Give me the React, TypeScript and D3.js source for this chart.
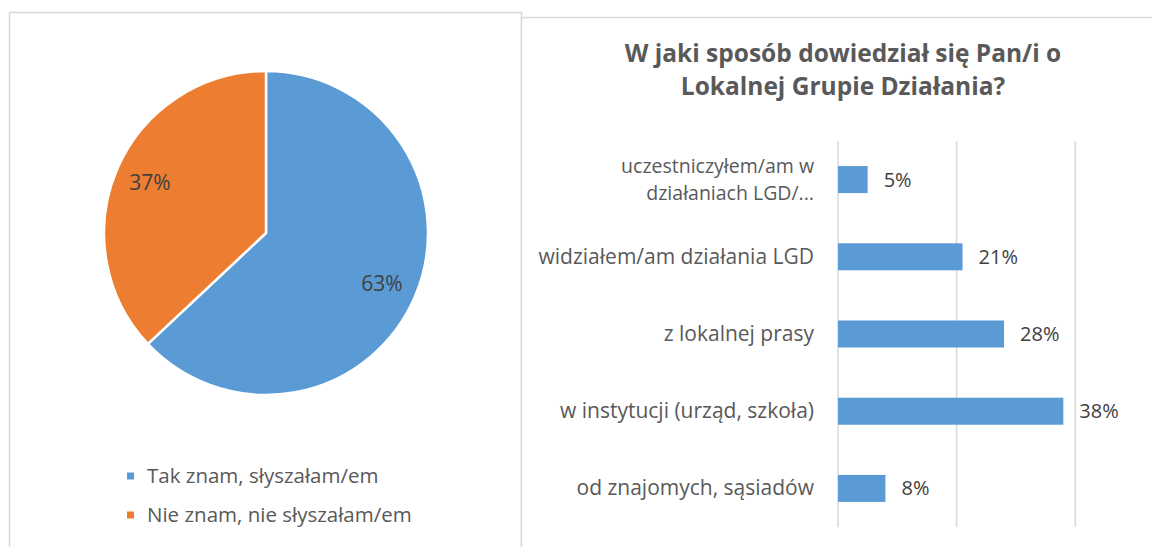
import React from 'react'
import * as d3 from 'd3'

// pie
const pieLabels = ['Tak znam, słyszałam/em', 'Nie znam, nie słyszałam/em']
const pieValues = [63, 37]
const pieColors = ['#5B9BD5', '#ED7D31']

// bars
const barTitle = ['W jaki sposób dowiedział się Pan/i o', 'Lokalnej Grupie Działania?']
const barCategories = [
  ['uczestniczyłem/am w', 'działaniach LGD/...'],
  ['widziałem/am działania LGD'],
  ['z lokalnej prasy'],
  ['w instytucji (urząd, szkoła)'],
  ['od znajomych, sąsiadów'],
]
const barValues = [5, 21, 28, 38, 8]
const barTicks = [0, 20, 40, 60]

const FONT = '"Open Sans", Lato, sans-serif'
const TEXT = '#595959'

const App = () => {
  const W = 1152
  const H = 547

  // pie layout
  const cx = 266
  const cy = 233
  const r = 162
  const pie = d3.pie<number>().sort(null).value(d => d)
  const arcs = pie(pieValues)
  const arc = d3.arc<d3.PieArcDatum<number>>().innerRadius(0).outerRadius(r)
  const labelArc = d3.arc<d3.PieArcDatum<number>>().innerRadius(r * 0.78).outerRadius(r * 0.78)

  // bar layout
  const x = d3.scaleLinear().domain([0, 60]).range([838, 838 + 5.93 * 60])
  const y = d3.scaleBand<number>()
    .domain(barValues.map((_, i) => i))
    .range([141, 527])
    .paddingInner(0.65)
    .paddingOuter(0.325)

  return (
    <svg width={W} height={H} style={{ position: 'absolute', left: 0, top: 0, background: '#fff' }}
      fontFamily={FONT}>
      {/* panel borders */}
      <rect x={9.5} y={12.5} width={512} height={560} fill="#fff" stroke="#D9D9D9" strokeWidth={1.5} />
      <rect x={521.5} y={17.5} width={660} height={560} fill="#fff" stroke="#D9D9D9" strokeWidth={1.5} />

      {/* pie */}
      <g transform={`translate(${cx},${cy})`}>
        {arcs.map((a, i) => (
          <path key={i} d={arc(a) || ''} fill={pieColors[i]} stroke="#fff" strokeWidth={2.5} strokeLinejoin="round" />
        ))}
        {arcs.map((a, i) => {
          const [lx, ly] = labelArc.centroid(a)
          return (
            <text key={i} x={lx} y={ly} dy="0.35em" textAnchor="middle" fontSize={21} fill="#404040">
              {pieValues[i]}%
            </text>
          )
        })}
      </g>

      {/* legend */}
      {pieLabels.map((l, i) => (
        <g key={l} transform={`translate(127,${476 + i * 39})`}>
          <rect x={0} y={-3.5} width={7} height={7} fill={pieColors[i]} />
          <text x={20} y={0} dy="0.35em" fontSize={20.5} fill={TEXT}>{l}</text>
        </g>
      ))}

      {/* bar title */}
      <text x={843} y={62} textAnchor="middle" fontSize={24.5} fontWeight="bold" fill={TEXT}>
        {barTitle.map((t, i) => (
          <tspan key={t} x={843} dy={i === 0 ? 0 : 33}>{t}</tspan>
        ))}
      </text>

      {/* gridlines */}
      {barTicks.map(t => (
        <line key={t} x1={x(t)} x2={x(t)} y1={141} y2={527} stroke="#D9D9D9" strokeWidth={1.5} />
      ))}

      {/* bars */}
      {barValues.map((v, i) => {
        const yc = (y(i) || 0) + y.bandwidth() / 2
        const lines = barCategories[i]
        const multi = lines.length > 1
        const lh = 26.6
        return (
          <g key={i}>
            <rect x={x(0)} y={y(i)} width={x(v) - x(0)} height={y.bandwidth()} fill="#5B9BD5" />
            <text x={x(v) + 16} y={yc} dy="0.35em" fontSize={20} fill="#404040">{v}%</text>
            {lines.map((ln, j) => (
              <text key={j} x={814} y={yc + (j - (lines.length - 1) / 2) * lh + 7}
                textAnchor="end" fontSize={multi ? 19.5 : 21} fill={TEXT}>
                {ln}
              </text>
            ))}
          </g>
        )
      })}
    </svg>
  )
}

export default App
